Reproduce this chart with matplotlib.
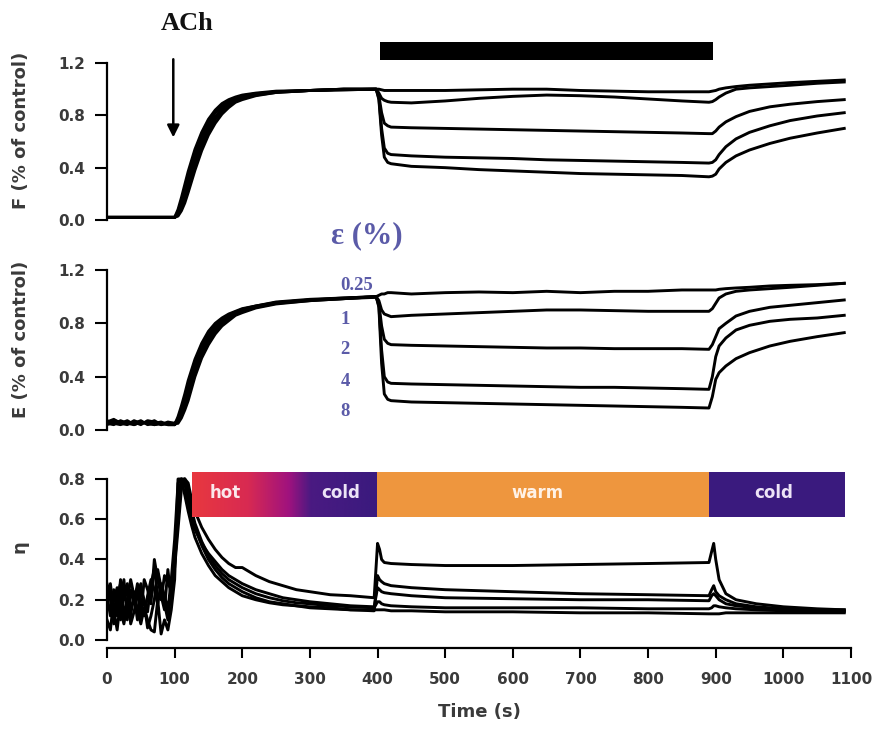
import numpy as np
import matplotlib
matplotlib.use("Agg")
import matplotlib.pyplot as plt
from matplotlib.colors import LinearSegmentedColormap
from matplotlib.patches import Rectangle

# ---------------- data ----------------
strain_labels = ["0.25", "1", "2", "4", "8"]

time_fe = [0, 10, 20, 30, 40, 50, 60, 70, 80, 90, 100,
           105, 110, 115, 120, 130, 140, 150, 160, 170, 180, 190, 200,
           220, 250, 300, 350, 398,
           402, 406, 410, 415, 420, 450, 500, 550, 600, 650, 700, 750, 800, 850, 890,
           895, 900, 905, 915, 930, 950, 980, 1010, 1050, 1090]

# F (% of control)
F_025 = [0.02] * 11 + [0.08, 0.17, 0.27, 0.37, 0.54, 0.67, 0.77, 0.84, 0.89, 0.92, 0.94, 0.955,
                       0.97, 0.985, 0.99, 1.0, 1.0,
                       1.0, 0.995, 0.99, 0.99, 0.99, 0.99, 0.99, 0.995, 1.0, 1.0, 0.99, 0.985, 0.98, 0.98, 0.98,
                       0.985, 0.99, 1.0, 1.01, 1.02, 1.03, 1.04, 1.05, 1.06, 1.07]
F_1 = [0.02] * 11 + [0.06, 0.14, 0.23, 0.33, 0.50, 0.64, 0.74, 0.82, 0.87, 0.905, 0.93, 0.95,
                     0.965, 0.98, 0.99, 1.0, 1.0,
                     0.97, 0.93, 0.915, 0.905, 0.90, 0.895, 0.91, 0.93, 0.945, 0.955, 0.95, 0.94, 0.925, 0.91, 0.90,
                     0.905, 0.92, 0.94, 0.97, 1.0, 1.01, 1.02, 1.03, 1.045, 1.055]
F_2 = [0.02] * 11 + [0.05, 0.11, 0.19, 0.28, 0.46, 0.60, 0.71, 0.79, 0.85, 0.89, 0.92, 0.94,
                     0.96, 0.98, 0.99, 0.995, 1.0,
                     0.95, 0.82, 0.74, 0.72, 0.71, 0.705, 0.70, 0.695, 0.69, 0.685, 0.68, 0.675, 0.67, 0.665, 0.66,
                     0.66, 0.68, 0.71, 0.75, 0.79, 0.83, 0.865, 0.885, 0.905, 0.92]
F_4 = [0.02] * 11 + [0.04, 0.09, 0.16, 0.24, 0.42, 0.57, 0.68, 0.77, 0.83, 0.875, 0.91, 0.93,
                     0.955, 0.975, 0.99, 0.995, 1.0,
                     0.93, 0.70, 0.55, 0.51, 0.50, 0.49, 0.48, 0.475, 0.47, 0.46, 0.455, 0.45, 0.445, 0.44, 0.435,
                     0.44, 0.46, 0.50, 0.56, 0.62, 0.67, 0.72, 0.76, 0.795, 0.82]
F_8 = [0.02] * 11 + [0.03, 0.07, 0.13, 0.21, 0.38, 0.53, 0.65, 0.74, 0.81, 0.86, 0.90, 0.92,
                     0.95, 0.975, 0.99, 1.0, 1.0,
                     0.92, 0.65, 0.48, 0.44, 0.43, 0.41, 0.40, 0.385, 0.375, 0.365, 0.355, 0.35, 0.345, 0.34, 0.33,
                     0.335, 0.35, 0.39, 0.44, 0.49, 0.535, 0.585, 0.625, 0.665, 0.70]

# E (% of control)
E_025 = [0.06, 0.08, 0.05, 0.07, 0.04, 0.06, 0.05, 0.04, 0.05, 0.04, 0.04,
         0.10, 0.18, 0.27, 0.37, 0.53, 0.65, 0.74, 0.80, 0.84, 0.87, 0.89, 0.91,
         0.93, 0.96, 0.98, 0.99, 1.0,
         1.01, 1.02, 1.02, 1.03, 1.03, 1.02, 1.03, 1.035, 1.03, 1.04, 1.03, 1.04, 1.04, 1.05, 1.05,
         1.05, 1.05, 1.055, 1.06, 1.065, 1.07, 1.08, 1.085, 1.09, 1.10]
E_1 = [0.05, 0.04, 0.07, 0.05, 0.06, 0.04, 0.07, 0.06, 0.04, 0.05, 0.05,
       0.08, 0.15, 0.24, 0.33, 0.50, 0.62, 0.71, 0.78, 0.83, 0.86, 0.885, 0.905,
       0.93, 0.955, 0.975, 0.99, 1.0,
       0.97, 0.90, 0.87, 0.86, 0.85, 0.86, 0.87, 0.88, 0.89, 0.90, 0.90, 0.895, 0.89, 0.89, 0.89,
       0.91, 0.95, 0.99, 1.02, 1.04, 1.05, 1.06, 1.07, 1.085, 1.10]
E_2 = [0.07, 0.05, 0.04, 0.06, 0.05, 0.07, 0.04, 0.05, 0.06, 0.04, 0.04,
       0.07, 0.13, 0.21, 0.30, 0.47, 0.60, 0.69, 0.76, 0.81, 0.85, 0.88, 0.90,
       0.925, 0.955, 0.975, 0.985, 0.995,
       0.95, 0.78, 0.68, 0.65, 0.64, 0.635, 0.63, 0.625, 0.62, 0.615, 0.615, 0.61, 0.61, 0.61, 0.605,
       0.64, 0.70, 0.76, 0.80, 0.855, 0.89, 0.92, 0.935, 0.955, 0.975]
E_4 = [0.04, 0.06, 0.05, 0.04, 0.07, 0.05, 0.06, 0.04, 0.05, 0.05, 0.04,
       0.06, 0.11, 0.18, 0.26, 0.43, 0.57, 0.67, 0.74, 0.80, 0.84, 0.87, 0.89,
       0.92, 0.95, 0.97, 0.985, 1.0,
       0.93, 0.60, 0.40, 0.36, 0.35, 0.345, 0.34, 0.335, 0.33, 0.325, 0.32, 0.32, 0.315, 0.31, 0.305,
       0.40, 0.55, 0.63, 0.69, 0.75, 0.785, 0.815, 0.83, 0.84, 0.86]
E_8 = [0.05, 0.07, 0.06, 0.05, 0.04, 0.06, 0.05, 0.07, 0.04, 0.06, 0.05,
       0.05, 0.09, 0.15, 0.22, 0.40, 0.54, 0.64, 0.72, 0.78, 0.82, 0.86, 0.88,
       0.915, 0.945, 0.97, 0.985, 1.0,
       0.92, 0.50, 0.27, 0.23, 0.22, 0.21, 0.205, 0.20, 0.195, 0.19, 0.185, 0.18, 0.175, 0.17, 0.165,
       0.25, 0.38, 0.43, 0.48, 0.535, 0.58, 0.63, 0.665, 0.70, 0.73]

# eta
time_eta = [0, 5, 10, 15, 20, 25, 30, 35, 40, 45, 50, 55, 60, 65, 70, 75, 80, 85, 90, 95, 100,
            105, 110, 115, 120, 125, 130,
            140, 150, 160, 170, 180, 190, 200,
            220, 240, 260, 280, 300, 330, 360, 395,
            400, 403, 406, 410, 420, 450, 500, 600, 700, 800, 890,
            894, 897, 900, 905, 915, 930, 960, 1000, 1050, 1090]

H_025 = [0.22, 0.12, 0.25, 0.18, 0.10, 0.24, 0.28, 0.15, 0.20, 0.26, 0.18, 0.12, 0.22, 0.30, 0.25, 0.18, 0.28, 0.22, 0.15, 0.30, 0.50,
         0.78, 0.80, 0.80, 0.70, 0.62, 0.56,
         0.47, 0.40, 0.35, 0.31, 0.28, 0.26, 0.24,
         0.21, 0.19, 0.18, 0.17, 0.165, 0.16, 0.15, 0.15,
         0.15, 0.15, 0.15, 0.15, 0.145, 0.145, 0.14, 0.14, 0.135, 0.135, 0.13,
         0.13, 0.13, 0.13, 0.13, 0.135, 0.135, 0.135, 0.135, 0.135, 0.135]
H_1 = [0.25, 0.20, 0.08, 0.22, 0.28, 0.12, 0.20, 0.30, 0.22, 0.10, 0.25, 0.20, 0.14, 0.28, 0.35, 0.22, 0.20, 0.32, 0.28, 0.25, 0.36,
       0.55, 0.75, 0.80, 0.75, 0.65, 0.58,
       0.49, 0.42, 0.37, 0.33, 0.30, 0.28, 0.26,
       0.23, 0.21, 0.195, 0.185, 0.18, 0.17, 0.165, 0.16,
       0.19, 0.19, 0.18, 0.175, 0.17, 0.165, 0.16, 0.16, 0.16, 0.155, 0.155,
       0.16, 0.17, 0.17, 0.165, 0.16, 0.155, 0.15, 0.145, 0.14, 0.14]
H_2 = [0.18, 0.28, 0.15, 0.05, 0.20, 0.30, 0.10, 0.25, 0.18, 0.28, 0.12, 0.30, 0.25, 0.18, 0.40, 0.30, 0.22, 0.15, 0.35, 0.20, 0.40,
       0.70, 0.80, 0.78, 0.68, 0.60, 0.55,
       0.48, 0.43, 0.39, 0.35, 0.32, 0.30, 0.28,
       0.25, 0.23, 0.21, 0.20, 0.19, 0.18, 0.17, 0.165,
       0.26, 0.25, 0.24, 0.235, 0.23, 0.22, 0.21, 0.205, 0.20, 0.20, 0.195,
       0.22, 0.23, 0.22, 0.20, 0.18, 0.17, 0.16, 0.15, 0.145, 0.145]
H_4 = [0.10, 0.05, 0.20, 0.26, 0.15, 0.08, 0.18, 0.12, 0.24, 0.15, 0.08, 0.16, 0.10, 0.05, 0.04, 0.20, 0.03, 0.10, 0.05, 0.15, 0.30,
       0.80, 0.80, 0.72, 0.64, 0.57, 0.51,
       0.43, 0.37, 0.32, 0.29, 0.26, 0.24, 0.22,
       0.20, 0.185, 0.175, 0.17, 0.16, 0.155, 0.15, 0.145,
       0.32, 0.30, 0.29, 0.28, 0.27, 0.26, 0.25, 0.24, 0.23, 0.225, 0.22,
       0.25, 0.27, 0.24, 0.22, 0.20, 0.18, 0.165, 0.155, 0.15, 0.15]
H_8 = [0.28, 0.22, 0.18, 0.12, 0.30, 0.20, 0.26, 0.08, 0.14, 0.22, 0.28, 0.18, 0.06, 0.12, 0.20, 0.35, 0.26, 0.18, 0.10, 0.25, 0.38,
       0.60, 0.78, 0.80, 0.78, 0.70, 0.64,
       0.56, 0.50, 0.45, 0.41, 0.38, 0.36, 0.36,
       0.32, 0.29, 0.27, 0.25, 0.24, 0.225, 0.22, 0.21,
       0.48, 0.45, 0.40, 0.385, 0.38, 0.375, 0.37, 0.37, 0.375, 0.38, 0.385,
       0.44, 0.48, 0.40, 0.30, 0.23, 0.20, 0.18, 0.165, 0.155, 0.15]

F_curves = [F_025, F_1, F_2, F_4, F_8]
E_curves = [E_025, E_1, E_2, E_4, E_8]
H_curves = [H_025, H_1, H_2, H_4, H_8]

# stimulus / temperature periods
stretch_period = (404, 896)
temp_labels = ["hot", "cold", "warm", "cold"]
gradient_period = (125, 399)
warm_period = (399, 890)
cold_period = (890, 1091)

# ---------------- figure ----------------
fig = plt.figure(figsize=(8.78, 7.31), dpi=100)
fig.patch.set_facecolor("white")

tick_color = "#3a3a3a"
tick_font = dict(family="DejaVu Sans", weight="bold", size=11)
blue = "#5B5BA8"

ax_f = fig.add_axes([0.12187, 0.69371, 0.84738, 0.22367])
ax_e = fig.add_axes([0.12187, 0.40629, 0.84738, 0.22804])
ax_h = fig.add_axes([0.12187, 0.11348, 0.84738, 0.24778])


def style_axis(ax, ymax, yticks, show_x):
    ax.set_xlim(0, 1100)
    for s in ["top", "right"]:
        ax.spines[s].set_visible(False)
    ax.spines["left"].set_linewidth(1.6)
    ax.spines["left"].set_bounds(0, ymax)
    ax.set_yticks(yticks)
    ax.set_yticklabels([f"{v:.1f}" for v in yticks], **tick_font, color=tick_color)
    ax.tick_params(axis="y", direction="out", length=8.5, width=1.5, pad=7, color="black")
    if show_x:
        ax.spines["bottom"].set_linewidth(1.6)
        ax.spines["bottom"].set_bounds(0, 1100)
        ax.set_xticks(range(0, 1101, 100))
        ax.set_xticklabels([str(v) for v in range(0, 1101, 100)], **tick_font, color=tick_color)
        ax.tick_params(axis="x", direction="out", length=7, width=1.5, pad=10)
    else:
        ax.spines["bottom"].set_visible(False)
        ax.set_xticks([])


for curve in F_curves:
    ax_f.plot(time_fe, curve, color="black", lw=2.1, solid_joinstyle="round")
ax_f.set_ylim(-0.03, 1.22)
style_axis(ax_f, 1.2, [0.0, 0.4, 0.8, 1.2], False)

for curve in E_curves:
    ax_e.plot(time_fe, curve, color="black", lw=2.1, solid_joinstyle="round")
ax_e.set_ylim(-0.03, 1.22)
style_axis(ax_e, 1.2, [0.0, 0.4, 0.8, 1.2], False)

for curve in H_curves:
    ax_h.plot(time_eta, curve, color="black", lw=2.1, solid_joinstyle="round")
ax_h.set_ylim(-0.04, 0.86)
style_axis(ax_h, 0.8, [0.0, 0.2, 0.4, 0.6, 0.8], True)
ax_h.set_xlabel("Time (s)", fontsize=13, fontweight="bold", color=tick_color, labelpad=12)

# y labels
label_font = dict(family="DejaVu Sans", weight="bold", size=13, color=tick_color)
ax_f.set_ylabel("F (% of control)", **label_font)
ax_f.yaxis.set_label_coords(-0.103, 0.57)
ax_e.set_ylabel("E (% of control)", **label_font)
ax_e.yaxis.set_label_coords(-0.103, 0.57)
ax_h.set_ylabel("η", **label_font)
ax_h.yaxis.set_label_coords(-0.105, 0.56)

# stretch bar (top)
ax_f.add_patch(Rectangle((stretch_period[0], 1.225), stretch_period[1] - stretch_period[0], 0.138,
                         facecolor="black", edgecolor="none", clip_on=False))

# ACh annotation
ax_f.text(118, 1.505, "ACh", ha="center", va="center", fontsize=19, fontweight="bold",
          family="Liberation Serif", color="#111111", clip_on=False)
ax_f.annotate("", xy=(98, 0.61), xytext=(98, 1.25),
              arrowprops=dict(arrowstyle="-|>", lw=1.8, color="black", mutation_scale=18),
              annotation_clip=False)

# strain labels
ax_e.text(384, 1.46, "ε (%)", ha="center", va="center", fontsize=22, fontweight="bold",
          family="Liberation Serif", color=blue, clip_on=False)
strain_pos = [(369, 1.08), (352, 0.825), (352, 0.60), (352, 0.36), (352, 0.137)]
for lab, (tx, ty) in zip(strain_labels, strain_pos):
    ax_e.text(tx, ty, lab, ha="center", va="center", fontsize=13.5, fontweight="bold",
              family="Liberation Serif", color=blue)

# temperature bars
bar_lo, bar_hi = 0.613, 0.836
cmap = LinearSegmentedColormap.from_list(
    "hotcold", [(0.0, "#E8383F"), (0.3, "#D82A52"), (0.52, "#A0127E"), (0.64, "#4A1A82"), (1.0, "#3A1A7E")])
grad = np.linspace(0, 1, 256).reshape(1, -1)
ax_h.imshow(grad, cmap=cmap, aspect="auto", extent=[gradient_period[0], gradient_period[1], bar_lo, bar_hi],
            zorder=3)
ax_h.add_patch(Rectangle((warm_period[0], bar_lo), warm_period[1] - warm_period[0], bar_hi - bar_lo,
                         facecolor="#EE963E", edgecolor="none", zorder=3))
ax_h.add_patch(Rectangle((cold_period[0], bar_lo), cold_period[1] - cold_period[0], bar_hi - bar_lo,
                         facecolor="#3A1A7E", edgecolor="none", zorder=3))
ax_h.set_xlim(0, 1100)
ax_h.set_ylim(-0.04, 0.86)
text_y = 0.728
for lab, tx, col in zip(temp_labels, [175, 345, 637, 985], ["#FBE8EC", "#EDE4F7", "#FFF2E6", "#EDE4F7"]):
    ax_h.text(tx, text_y, lab, ha="center", va="center", fontsize=12, fontweight="bold",
              family="DejaVu Sans", color=col, zorder=4)

fig.savefig("out.png", dpi=100, facecolor="white")
